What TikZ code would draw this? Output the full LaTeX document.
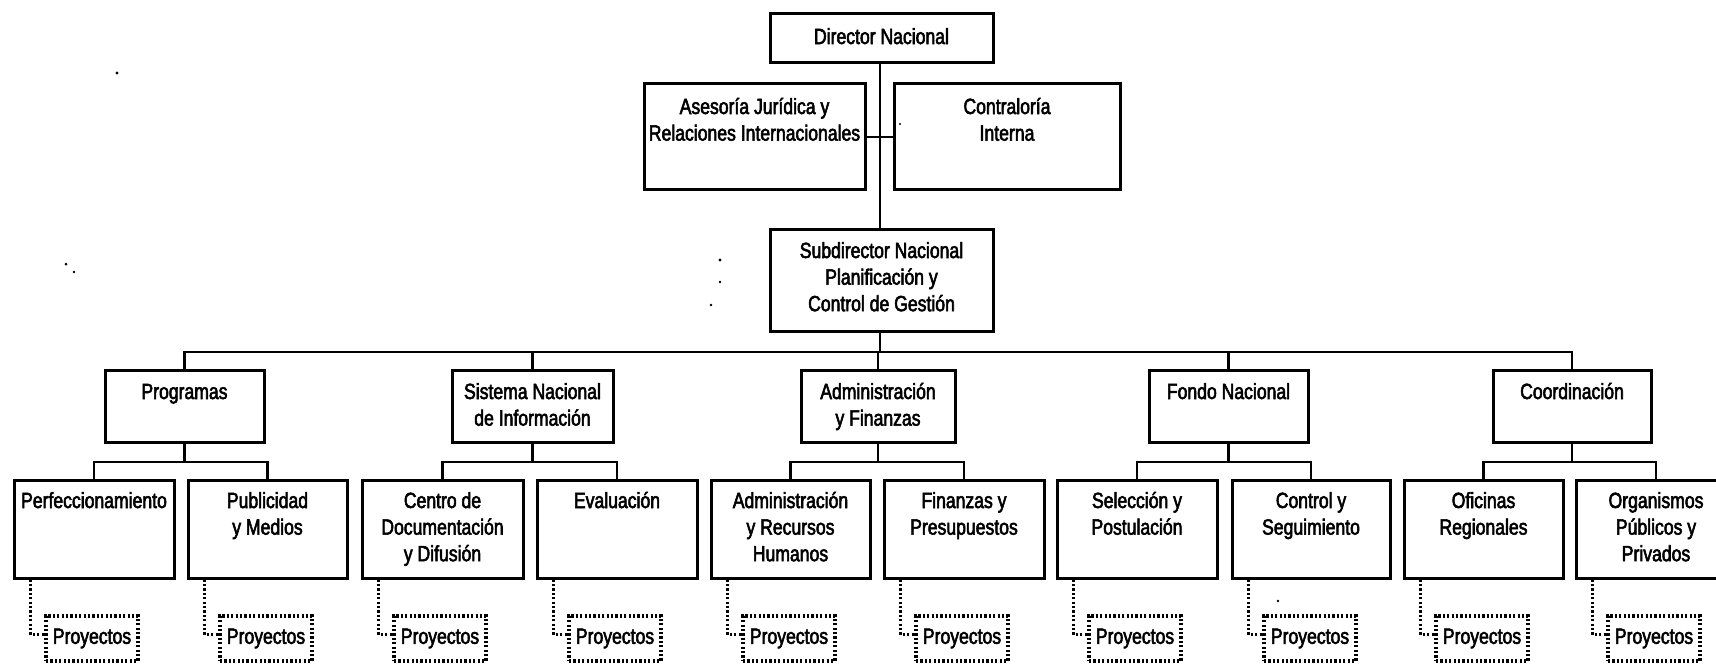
\documentclass[tikz,border=0pt]{standalone}
\usepackage{fontspec}
\setmainfont{Liberation Sans}[FakeStretch=0.8,FakeBold=2.5]
\tikzset{
  box/.style={draw, line width=1.5pt, inner sep=0pt},
  lbl/.style={font=\fontsize{11}{13.3}\selectfont, inner sep=0pt, anchor=base},
  conn/.style={line width=1.3pt},
  dots/.style={line width=1.6pt, dash pattern=on 1.1pt off 1.1pt},
  pbox/.style={draw, line width=1.6pt, dash pattern=on 1.1pt off 1.1pt, inner sep=0pt, font=\fontsize{11}{13.3}\selectfont},
  speck/.style={fill=black}
}
\newcommand{\ubox}[7]{%
  \node[box, minimum width={(#4-#2)*0.5pt}, minimum height={(#5-#3)*0.5pt}] (#1) at ({(#2+#4)/2},{(#3+#5)/2}) {};
  \node[lbl] (#1-t) at ({(#2+#4)/2},{#3+#6}) {\begin{tabular}[t]{@{}c@{}}#7\end{tabular}};
}
\newcommand{\proy}[3]{%
  \node[pbox, minimum width=46pt, minimum height=22.5pt] (#1) at ({#3+78},638.5) {Proyectos};
  \draw[dots] ([xshift=9pt]#2.south west) |- ([yshift=2pt]#1.west);
}
\begin{document}
\begin{tikzpicture}[x=0.5pt,y=-0.5pt]
\useasboundingbox (0,0) rectangle (1716,664);
\coordinate (bus) at (0,352);
\coordinate (subbus) at (0,462);
% top
\ubox{dir}{770}{13}{993}{62}{31}{Director Nacional}
\ubox{ase}{644}{83}{865}{189}{31}{Asesoría Jurídica y\\Relaciones Internacionales}
\ubox{con}{894}{83}{1120}{189}{31}{Contraloría\\Interna}
\ubox{sub}{770}{229}{993}{331}{29}{Subdirector Nacional\\Planificación y\\Control de Gestión}
\coordinate (mid) at (880,137);
\draw[conn] (dir.south -| mid) -- (sub.north -| mid);
\draw[conn] (ase.east |- mid) -- (con.west |- mid);
% second level
\ubox{prog}{105}{370}{264}{442}{29}{Programas}
\ubox{sis}{452}{370}{613}{442}{29}{Sistema Nacional\\de Información}
\ubox{adm}{801}{370}{955}{442}{29}{Administración\\y Finanzas}
\ubox{fon}{1149}{370}{1308}{442}{29}{Fondo Nacional}
\ubox{coo}{1493}{370}{1651}{442}{29}{Coordinación}
\draw[conn] (sub.south -| mid) -- (bus -| mid);
\draw[conn] (prog.north) -- (prog.north |- bus) -- (coo.north |- bus) -- (coo.north);
\foreach \p in {sis,adm,fon} \draw[conn] (\p.north) -- (\p.north |- bus);
% children
\ubox{c1}{14}{480}{174}{578}{28}{Perfeccionamiento}
\ubox{c2}{188}{480}{347}{578}{28}{Publicidad\\y Medios}
\ubox{c3}{362}{480}{523}{578}{28}{Centro de\\Documentación\\y Difusión}
\ubox{c4}{537}{480}{697}{578}{28}{Evaluación}
\ubox{c5}{711}{480}{870}{578}{28}{Administración\\y Recursos\\Humanos}
\ubox{c6}{884}{480}{1044}{578}{28}{Finanzas y\\Presupuestos}
\ubox{c7}{1057}{480}{1217}{578}{28}{Selección y\\Postulación}
\ubox{c8}{1232}{480}{1390}{578}{28}{Control y\\Seguimiento}
\ubox{c9}{1404}{480}{1563}{578}{28}{Oficinas\\Regionales}
\ubox{c10}{1576}{480}{1736}{578}{28}{Organismos\\Públicos y\\Privados}
\foreach \p/\a/\b in {prog/c1/c2, sis/c3/c4, adm/c5/c6, fon/c7/c8, coo/c9/c10}{
  \draw[conn] (\p.south) -- (\p.south |- subbus);
  \draw[conn] (\a.north) -- (\a.north |- subbus) -- (\b.north |- subbus) -- (\b.north);
}
% projects
\proy{p1}{c1}{14}
\proy{p2}{c2}{188}
\proy{p3}{c3}{362}
\proy{p4}{c4}{537}
\proy{p5}{c5}{711}
\proy{p6}{c6}{884}
\proy{p7}{c7}{1057}
\proy{p8}{c8}{1232}
\proy{p9}{c9}{1404}
\proy{p10}{c10}{1576}
% scan specks
\fill[speck] (117,73) circle (1.6);
\fill[speck] (66,264) circle (1.5);
\fill[speck] (74,272) circle (1.3);
\fill[speck] (720,260) circle (1.6);
\fill[speck] (720,282) circle (1.3);
\fill[speck] (711,305) circle (1.3);
\fill[speck] (900,124) circle (1.1);
\fill[speck] (1278,601) circle (1.3);
\end{tikzpicture}
\end{document}
